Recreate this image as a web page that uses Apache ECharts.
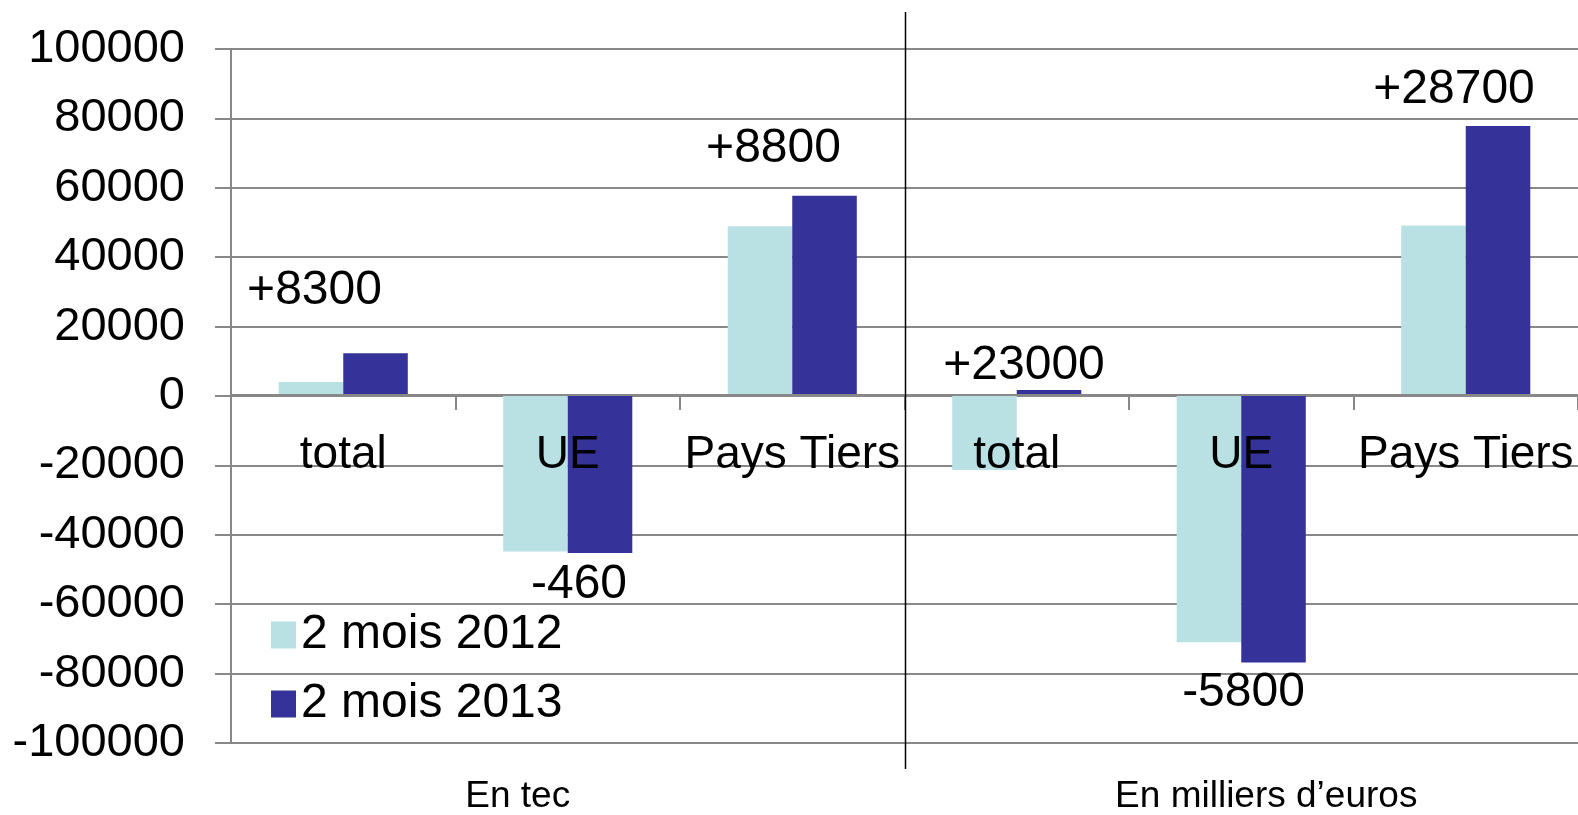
<!DOCTYPE html>
<html>
<head>
<meta charset="utf-8">
<script src="https://cdn.jsdelivr.net/npm/echarts@6/dist/echarts.min.js"></script>
<style>
html,body{margin:0;padding:0;background:#fff;}
#chart{width:1578px;height:815px;}
</style>
</head>
<body>
<div id="chart"></div>
<script>
// ---- data ----
const categories = ['total', 'UE', 'Pays Tiers', 'total', 'UE', 'Pays Tiers'];
const groups = ['En tec', 'En milliers d\u2019euros'];
const seriesNames = ['2 mois 2012', '2 mois 2013'];
const values2012 = [4000, -44800, 48900, -21300, -71000, 49100];
const values2013 = [12300, -45260, 57700, 1700, -76800, 77800];
const annotations = ['+8300', '-460', '+8800', '+23000', '-5800', '+28700'];
const yTicks = { min: -100000, max: 100000, interval: 20000 };

// ---- styling (not data) ----
const FONT = 'Liberation Sans, Arial, sans-serif';
const GRAY = '#888888';
const labelOffsets = [[-61, -63], [-21, 32], [-51, -47], [-25, -24], [-30, 30], [-44, -36]];

const chart = echarts.init(document.getElementById('chart'), null, { renderer: 'canvas' });

const data2013 = values2013.map((v, i) => ({
  value: v,
  label: {
    show: true,
    position: v >= 0 ? 'top' : 'bottom',
    distance: 0,
    verticalAlign: 'middle',
    align: 'center',
    offset: labelOffsets[i],
    formatter: () => annotations[i],
    fontSize: 48,
    color: '#000',
    fontFamily: FONT
  }
}));

const option = {
  animation: false,
  textStyle: { fontFamily: FONT },
  grid: { left: 231, right: 0, top: 49, bottom: 70, containLabel: false },
  legend: {
    data: seriesNames,
    orient: 'vertical',
    left: 266,
    top: 606,
    itemWidth: 25,
    itemHeight: 27,
    itemGap: 21,
    itemTextGap: 11,
    icon: 'rect',
    textStyle: { fontSize: 48, color: '#000', fontFamily: FONT }
  },
  xAxis: [
    {
      type: 'category',
      data: categories,
      position: 'bottom',
      offset: -348,
      z: 10,
      axisLine: { onZero: false, lineStyle: { color: GRAY, width: 2 } },
      axisTick: { show: true, length: 15, lineStyle: { color: GRAY, width: 2 } },
      axisLabel: { fontSize: 46, color: '#000', margin: 37, interval: 0, fontFamily: FONT },
      splitLine: { show: false }
    },
    {
      type: 'category',
      position: 'bottom',
      data: [
        { value: groups[0], textStyle: { padding: [0, 100, 0, 0] } },
        { value: groups[1], textStyle: { padding: [0, 0, 0, 50] } }
      ],
      axisLine: { show: false, onZero: false },
      axisTick: { show: false },
      axisLabel: { fontSize: 37, color: '#000', margin: 35, interval: 0, fontFamily: FONT },
      splitLine: { show: false }
    }
  ],
  yAxis: {
    type: 'value',
    min: yTicks.min,
    max: yTicks.max,
    interval: yTicks.interval,
    axisLine: { show: true, lineStyle: { color: GRAY, width: 2 } },
    axisTick: { show: true, length: 16, lineStyle: { color: GRAY, width: 2 } },
    axisLabel: { fontSize: 47, color: '#000', margin: 46, fontFamily: FONT, formatter: v => String(v) },
    splitLine: { show: true, lineStyle: { color: GRAY, width: 2 } }
  },
  series: [
    {
      name: seriesNames[0],
      type: 'bar',
      data: values2012,
      barGap: '0%',
      barCategoryGap: '42.5%',
      itemStyle: { color: '#B9E0E3' }
    },
    {
      name: seriesNames[1],
      type: 'bar',
      data: data2013,
      barGap: '0%',
      barCategoryGap: '42.5%',
      itemStyle: { color: '#353399' }
    }
  ]
};

chart.setOption(option);

// divider line between the two groups, located from the category axis itself
const xa = chart.convertToPixel({ xAxisIndex: 0 }, 2);
const xb = chart.convertToPixel({ xAxisIndex: 0 }, 3);
const xm = Math.round((xa + xb) / 2) + 0.5;
chart.setOption({
  graphic: [{
    type: 'line',
    shape: { x1: xm, y1: 12, x2: xm, y2: 769 },
    style: { stroke: '#000', lineWidth: 1.5 },
    z: 100
  }]
});
</script>
</body>
</html>
